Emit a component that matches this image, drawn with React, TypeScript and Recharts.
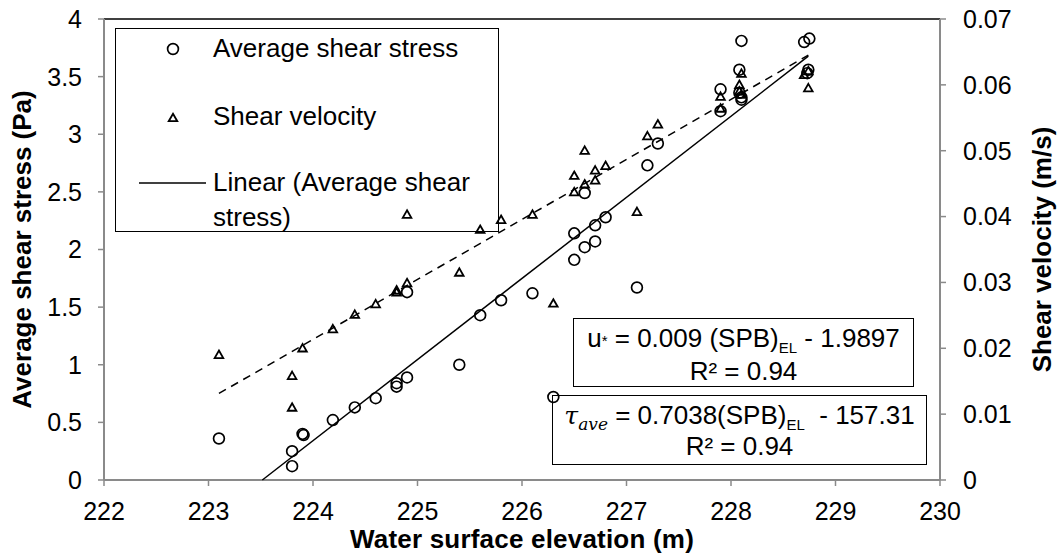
import React from 'react';
import { ComposedChart, Scatter, XAxis, YAxis, ReferenceLine } from 'recharts';

// Average shear stress (Pa) vs water surface elevation (m)
const elevStress = [223.1, 223.8, 223.8, 223.9, 223.91, 224.19, 224.4, 224.6, 224.8, 224.8, 224.9, 224.9, 225.4, 225.6, 225.8, 226.1, 226.3, 226.5, 226.5, 226.6, 226.6, 226.7, 226.7, 226.8, 227.1, 227.2, 227.3, 227.9, 227.9, 228.1, 228.08, 228.08, 228.1, 228.1, 228.7, 228.75, 228.74, 228.73];
const stress = [0.36, 0.25, 0.12, 0.4, 0.39, 0.52, 0.63, 0.71, 0.84, 0.81, 0.89, 1.63, 1.0, 1.43, 1.56, 1.62, 0.72, 2.14, 1.91, 2.02, 2.49, 2.07, 2.21, 2.28, 1.67, 2.73, 2.92, 3.39, 3.2, 3.81, 3.56, 3.36, 3.32, 3.3, 3.8, 3.83, 3.56, 3.53];

// Shear velocity (m/s) vs water surface elevation (m)
const elevVel = [223.1, 223.8, 223.8, 223.9, 224.19, 224.4, 224.6, 224.8, 224.8, 224.9, 224.9, 225.4, 225.6, 225.8, 226.1, 226.3, 226.5, 226.5, 226.6, 226.6, 226.7, 226.7, 226.8, 227.1, 227.2, 227.3, 227.9, 227.9, 228.1, 228.08, 228.08, 228.1, 228.7, 228.74, 228.74];
const velocity = [0.019, 0.0158, 0.011, 0.02, 0.0229, 0.0251, 0.0267, 0.0288, 0.0285, 0.0299, 0.0403, 0.0315, 0.038, 0.0395, 0.0403, 0.0268, 0.0462, 0.0437, 0.0449, 0.05, 0.047, 0.0455, 0.0477, 0.0407, 0.0522, 0.054, 0.0582, 0.0564, 0.0617, 0.06, 0.059, 0.0585, 0.0615, 0.0621, 0.0595];

const xTicks = [222, 223, 224, 225, 226, 227, 228, 229, 230];
const leftTicks = [0, 0.5, 1, 1.5, 2, 2.5, 3, 3.5, 4];
const rightTicks = [0, 0.01, 0.02, 0.03, 0.04, 0.05, 0.06, 0.07];

// trend lines
const stressTrend = { slope: 0.7038, intercept: -157.31 };
const velTrend = { slope: 0.00911, intercept: -2.0193 };
const trendEndX = 228.74;
const velTrendStartX = 223.1;

const stressData = elevStress.map((x, i) => ({ x, y: stress[i] }));
const velData = elevVel.map((x, i) => ({ x, y: velocity[i] }));
const stressStartX = -stressTrend.intercept / stressTrend.slope;
const stressLine = [stressStartX, trendEndX].map((x) => ({ x, y: stressTrend.slope * x + stressTrend.intercept }));
const velLine = [velTrendStartX, trendEndX].map((x) => ({ x, y: velTrend.slope * x + velTrend.intercept }));

const FONT = '"Liberation Sans", Arial, sans-serif';
const AXIS_GRAY = '#8a8a8a';

const CircleShape = (p: any) =>
  p.cx == null ? <g /> : <circle cx={p.cx} cy={p.cy} r={5.4} fill="none" stroke="#000" strokeWidth={1.7} />;
const TriShape = (p: any) =>
  p.cx == null ? (
    <g />
  ) : (
    <path
      d={`M${p.cx},${p.cy - 4.3} L${p.cx + 4.3},${p.cy + 3.2} L${p.cx - 4.3},${p.cy + 3.2} Z`}
      fill="none"
      stroke="#000"
      strokeWidth={1.8}
    />
  );
const NoShape = () => <g />;

const legendText: React.CSSProperties = {
  position: 'absolute',
  left: 97,
  fontSize: 26,
  lineHeight: '35px',
  color: '#000',
  whiteSpace: 'nowrap',
};

const subStyle: React.CSSProperties = { fontSize: 15, verticalAlign: '-6px', lineHeight: 0 };

export default function App() {
  return (
    <div style={{ position: 'absolute', left: 0, top: 0, width: 1057, height: 557, background: '#fff', fontFamily: FONT }}>
      {/* legend */}
      <div style={{ position: 'absolute', left: 115, top: 28, width: 384, height: 204, boxSizing: 'border-box', border: '1.5px solid #000' }}>
        <svg style={{ position: 'absolute', left: 0, top: 0 }} width={100} height={200}>
          <circle cx={57} cy={20} r={5.4} fill="none" stroke="#000" strokeWidth={1.7} />
          <path d="M57,84.7 L61.3,92.2 L52.7,92.2 Z" fill="none" stroke="#000" strokeWidth={1.8} />
          <line x1={23} x2={90} y1={154} y2={154} stroke="#000" strokeWidth={1.5} />
        </svg>
        <div style={{ ...legendText, top: 2 }}>Average shear stress</div>
        <div style={{ ...legendText, top: 70 }}>Shear velocity</div>
        <div style={{ ...legendText, top: 136 }}>Linear (Average shear<br />stress)</div>
      </div>
      {/* equation boxes */}
      <div style={{ position: 'absolute', left: 573, top: 318, width: 341, height: 69, boxSizing: 'border-box', border: '1.5px solid #000', fontSize: 26, lineHeight: '30px', textAlign: 'center', paddingTop: 4, color: '#000' }}>
        <div style={{ whiteSpace: 'nowrap' }}>
          u<span style={{ fontSize: 15, verticalAlign: '1px' }}>*</span> = 0.009 (SPB)<sub style={subStyle}>EL</sub> - 1.9897
        </div>
        <div>R² = 0.94</div>
      </div>
      <div style={{ position: 'absolute', left: 552, top: 395, width: 375, height: 70, boxSizing: 'border-box', border: '1.5px solid #000', fontSize: 26, lineHeight: '31px', textAlign: 'center', paddingTop: 4, color: '#000' }}>
        <div style={{ whiteSpace: 'nowrap' }}>
          <span style={{ fontFamily: '"DejaVu Serif", serif', fontStyle: 'italic', fontSize: 25 }}>τ</span>
          <sub style={{ ...subStyle, fontFamily: '"DejaVu Serif", serif', fontStyle: 'italic', fontSize: 17 }}>ave</sub> = 0.7038(SPB)
          <sub style={subStyle}>EL</sub>&nbsp; - 157.31
        </div>
        <div>R² = 0.94</div>
      </div>
      {/* chart */}
      <div style={{ position: 'absolute', left: 0, top: 0 }}>
        <ComposedChart width={1057} height={557} margin={{ top: 19, right: 0, bottom: 0, left: 0 }} style={{ fontFamily: FONT }}>
          <XAxis
            dataKey="x"
            type="number"
            domain={[222, 230]}
            ticks={xTicks}
            interval={0}
            height={77}
            axisLine={{ stroke: AXIS_GRAY, strokeWidth: 2 }}
            tickLine={{ stroke: AXIS_GRAY, strokeWidth: 1.5 }}
            tickSize={6}
            tickMargin={16}
            tick={{ fill: '#000', fontSize: 25 }}
            label={{ value: 'Water surface elevation (m)', position: 'center', dy: 20, fill: '#000', fontSize: 26, fontWeight: 'bold', letterSpacing: 0.2 }}
          />
          <YAxis
            yAxisId="left"
            dataKey="y"
            type="number"
            domain={[0, 4]}
            ticks={leftTicks}
            interval={0}
            width={104}
            axisLine={{ stroke: AXIS_GRAY, strokeWidth: 2 }}
            tickLine={{ stroke: AXIS_GRAY, strokeWidth: 1.5 }}
            tickSize={6}
            tickMargin={16}
            tick={{ fill: '#000', fontSize: 25 }}
            label={{ value: 'Average shear stress (Pa)', angle: -90, position: 'center', dx: -30, fill: '#000', fontSize: 26, fontWeight: 'bold' }}
          />
          <YAxis
            yAxisId="right"
            orientation="right"
            dataKey="y"
            type="number"
            domain={[0, 0.07]}
            ticks={rightTicks}
            interval={0}
            width={117}
            axisLine={{ stroke: AXIS_GRAY, strokeWidth: 2 }}
            tickLine={{ stroke: AXIS_GRAY, strokeWidth: 1.5 }}
            tickSize={6}
            tickMargin={17}
            tickFormatter={(v: number) => (v === 0 ? '0' : v.toFixed(2))}
            tick={{ fill: '#000', fontSize: 25 }}
            label={{ value: 'Shear velocity (m/s)', angle: -90, position: 'center', dx: 43, fill: '#000', fontSize: 26, fontWeight: 'bold' }}
          />
          <ReferenceLine yAxisId="left" y={4} stroke="#000" strokeWidth={1.5} />
          <Scatter yAxisId="left" data={stressData} shape={CircleShape} isAnimationActive={false} />
          <Scatter yAxisId="right" data={velData} shape={TriShape} isAnimationActive={false} />
          <Scatter yAxisId="left" data={stressLine} shape={NoShape} line={{ stroke: '#000', strokeWidth: 1.5 }} isAnimationActive={false} />
          <Scatter yAxisId="right" data={velLine} shape={NoShape} line={{ stroke: '#000', strokeWidth: 1.5, strokeDasharray: '8 6' }} isAnimationActive={false} />
        </ComposedChart>
      </div>
    </div>
  );
}
